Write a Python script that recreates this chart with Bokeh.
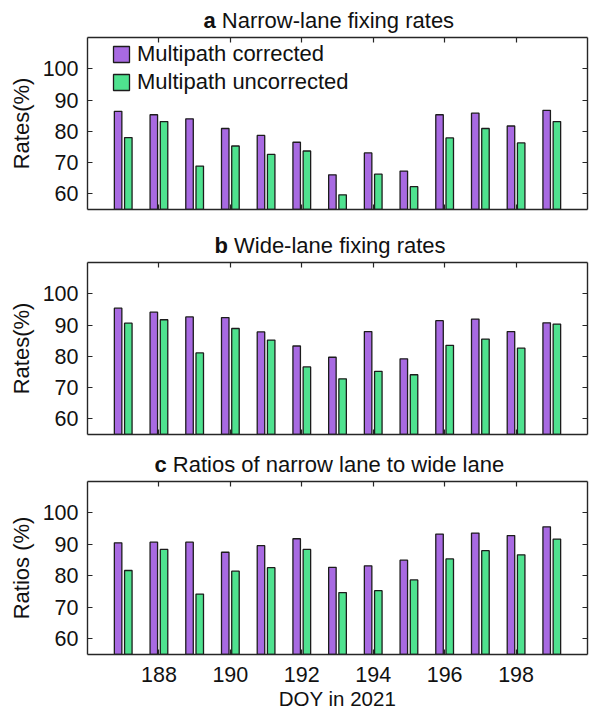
from bokeh.plotting import figure
from bokeh.models import (Range1d, FixedTicker, LinearAxis, Legend, LegendItem,
                          ColumnDataSource)
from bokeh.transform import dodge
from bokeh.layouts import column
from bokeh.embed import file_html
from bokeh.resources import INLINE
from bokeh.core.properties import value

# ---------------- data ----------------
doy = [187, 188, 189, 190, 191, 192, 193, 194, 195, 196, 197, 198, 199]
narrow_corrected = [86.4, 85.3, 84.0, 80.9, 78.7, 76.5, 66.1, 73.1, 67.3, 85.3, 85.8, 81.7, 86.7]
narrow_uncorrected = [78.0, 83.1, 68.9, 75.3, 72.6, 73.7, 59.7, 66.3, 62.3, 77.9, 80.9, 76.3, 83.1]
wide_corrected = [95.4, 94.1, 92.6, 92.4, 87.8, 83.3, 79.7, 87.9, 79.2, 91.4, 91.9, 87.9, 90.7]
wide_uncorrected = [90.6, 91.7, 81.1, 88.9, 85.2, 76.6, 72.8, 75.2, 74.1, 83.5, 85.5, 82.6, 90.3]
ratio_corrected = [90.5, 90.7, 90.7, 87.5, 89.6, 91.8, 82.7, 83.2, 85.0, 93.3, 93.6, 92.8, 95.6]
ratio_uncorrected = [81.7, 88.4, 74.2, 81.5, 82.6, 88.4, 74.7, 75.3, 78.7, 85.4, 88.0, 86.7, 91.7]

series_names = ["Multipath corrected", "Multipath uncorrected"]
panel_letters = ["a", "b", "c"]
panel_titles = ["Narrow-lane fixing rates", "Wide-lane fixing rates",
                "Ratios of narrow lane to wide lane"]
y_labels = ["Rates(%)", "Rates(%)", "Ratios (%)"]
x_label = "DOY in 2021"
y_ticks = [60, 70, 80, 90, 100]
x_ticks = [188, 190, 192, 194, 196, 198]
x_lim = (186, 200)
y_lim = (55, 110)

PURPLE = "#A86AE2"
GREEN = "#4FE28F"
EDGE = "#1c1c1c"
FONT = "Liberation Sans"
AX = "#262626"
TXT = "#111111"

FRAME_LEFT = 87.0
PX_PER_DAY = 500.0 / 14.0
W = 589
BL = 87
BR = 2


def px_to_x(px):
    return x_lim[0] + (px - FRAME_LEFT) / PX_PER_DAY


def text_strip(height):
    h = figure(width=W, height=height, x_range=Range1d(*x_lim),
               y_range=Range1d(0, height), toolbar_location=None,
               output_backend="svg", x_axis_location=None, y_axis_location=None,
               min_border_left=BL, min_border_right=BR,
               min_border_top=0, min_border_bottom=0)
    h.outline_line_color = None
    for g in h.grid:
        g.visible = False
    return h


def header(height, baseline_from_bottom, letter, title, title_px, letter_w):
    h = text_strip(height)
    x0 = px_to_x(title_px)
    h.text(x=[x0], y=[baseline_from_bottom], text=[letter],
           text_font=value(FONT), text_font_size="22px", text_font_style="bold",
           text_color=TXT, text_align="left", text_baseline="alphabetic")
    h.text(x=[x0], y=[baseline_from_bottom], text=[title], x_offset=letter_w,
           text_font=value(FONT), text_font_size="22px", text_color=TXT,
           text_align="left", text_baseline="alphabetic")
    return h


def footer(height, baseline_from_bottom, label):
    h = text_strip(height)
    h.text(x=[(x_lim[0] + x_lim[1]) / 2], y=[baseline_from_bottom], text=[label],
           text_font=value(FONT), text_font_size="20.5px", text_color=TXT,
           text_align="center", text_baseline="alphabetic")
    return h


def style_axis(ax):
    ax.axis_line_color = AX
    ax.axis_line_width = 1.4
    ax.major_tick_line_color = AX
    ax.major_tick_line_width = 1.2
    ax.major_tick_in = 5
    ax.major_tick_out = 0
    ax.minor_tick_line_color = AX
    ax.minor_tick_line_width = 1.2
    ax.minor_tick_in = 5
    ax.minor_tick_out = 0


def tick_only_axis(ticks):
    # ticks drawn as "minor" ticks so that no tick labels are created
    ax = LinearAxis(ticker=FixedTicker(ticks=[], minor_ticks=ticks))
    style_axis(ax)
    ax.major_label_standoff = 0
    return ax


def make_panel(height, top, bottom, ylabel, corr, uncorr, show_x, legend=False):
    p = figure(width=W, height=height,
               x_range=Range1d(*x_lim), y_range=Range1d(*y_lim),
               toolbar_location=None, output_backend="svg",
               x_axis_location=None, y_axis_location=None,
               min_border_left=BL, min_border_right=BR,
               min_border_top=top, min_border_bottom=bottom)
    p.outline_line_color = None
    for g in p.grid:
        g.visible = False

    src = ColumnDataSource(dict(doy=doy, corr=corr, uncorr=uncorr))
    r1 = p.vbar(x=dodge("doy", -0.143, range=p.x_range), top="corr", bottom=0,
                width=0.21, source=src, fill_color=PURPLE, line_color=EDGE,
                line_width=1.3)
    r2 = p.vbar(x=dodge("doy", 0.143, range=p.x_range), top="uncorr", bottom=0,
                width=0.21, source=src, fill_color=GREEN, line_color=EDGE,
                line_width=1.3)

    left = LinearAxis(ticker=FixedTicker(ticks=y_ticks), axis_label=ylabel)
    style_axis(left)
    left.major_label_text_font = FONT
    left.major_label_text_font_size = "21.5px"
    left.major_label_text_color = TXT
    left.major_label_standoff = 9
    left.axis_label_text_font = FONT
    left.axis_label_text_font_size = "22px"
    left.axis_label_text_font_style = "normal"
    left.axis_label_text_color = TXT
    left.axis_label_standoff = 6
    p.add_layout(left, "left")

    p.add_layout(tick_only_axis(y_ticks), "right")
    p.add_layout(tick_only_axis(x_ticks), "above")

    if show_x:
        below = LinearAxis(ticker=FixedTicker(ticks=x_ticks))
        style_axis(below)
        below.major_label_text_font = FONT
        below.major_label_text_font_size = "21.5px"
        below.major_label_text_color = TXT
        below.major_label_standoff = 12
    else:
        below = tick_only_axis(x_ticks)
    p.add_layout(below, "below")

    if legend:
        lg = Legend(items=[LegendItem(label=series_names[0], renderers=[r1]),
                           LegendItem(label=series_names[1], renderers=[r2])],
                    location=(24, 114), orientation="vertical")
        lg.label_text_font = FONT
        lg.label_text_font_size = "22px"
        lg.label_text_color = TXT
        lg.glyph_width = 20
        lg.glyph_height = 20
        lg.label_height = 20
        lg.label_standoff = 6
        lg.spacing = 2
        lg.padding = 0
        lg.margin = 0
        lg.border_line_color = None
        lg.background_fill_alpha = 0
        p.add_layout(lg, "center")
    return p


ha = header(33, 13.5, panel_letters[0], panel_titles[0], 203, 18.3)
pa = make_panel(192, 4, 16, y_labels[0], narrow_corrected, narrow_uncorrected,
                False, legend=True)
hb = header(33, 13.5, panel_letters[1], panel_titles[1], 214, 19.5)
pb = make_panel(190, 4, 14, y_labels[1], wide_corrected, wide_uncorrected, False)
hc = header(29, 13.5, panel_letters[2], panel_titles[2], 154, 18.3)
pc = make_panel(210, 4, 33, y_labels[2], ratio_corrected, ratio_uncorrected, True)
fc = footer(23, 11.7, x_label)

layout = column(ha, pa, hb, pb, hc, pc, fc, spacing=0)
open("out.html", "w").write(file_html(layout, INLINE))
